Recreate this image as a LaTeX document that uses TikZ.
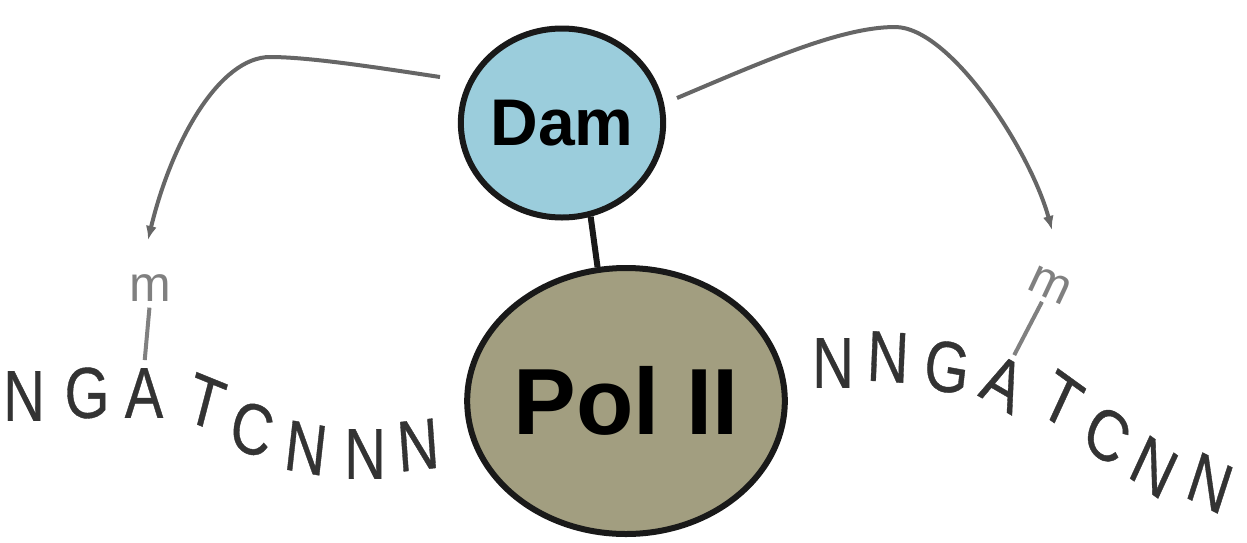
\documentclass[tikz,border=0pt]{standalone}
\usepackage{fontspec}
\setmainfont{Liberation Sans}
\newfontfamily\seqfont{Liberation Sans}[FakeBold=0.6]
\usetikzlibrary{arrows.meta,shapes.geometric}
\definecolor{damblue}{RGB}{155,205,220}
\definecolor{pololive}{RGB}{162,158,128}
\begin{document}
\begin{tikzpicture}[x=1pt,y=-1pt,
  seq/.style={font=\seqfont\fontsize{72}{80}\selectfont, text=black!80, inner sep=0pt, xscale=0.8},
  meth/.style={font=\fontsize{50}{56}\selectfont, text=black!50, inner sep=0pt},
  ball/.style={ellipse, draw=black!90, line width=6pt, inner sep=0pt},
  curv/.style={draw=black!60, line width=4pt, -{Latex[length=14pt,width=11pt]}},
  tick/.style={draw=black!50, line width=4pt}]
\useasboundingbox (0,0) rectangle (1247,542);
% balls
\node[ball, fill=damblue, minimum width=195pt, minimum height=189pt] (Dam) at (562,123)
  {\fontsize{66}{72}\selectfont\bfseries Dam};
\node[ball, fill=pololive, minimum width=312pt, minimum height=266pt] (Pol) at (626,401)
  {\fontsize{94}{100}\selectfont\bfseries Pol II};
\draw[line width=6pt, black!90] (Dam.-73) -- (Pol.102);
% left sequence
\node[seq] (NL1) at (24,396) {N};
\node[seq] (GL) at (87,393) {G};
\node[seq] (AL) at (144,393) {A};
\node[seq, rotate=-18] (TL) at (206,402) {T};
\node[seq, rotate=-15] (CL) at (252,429) {C};
\node[seq, rotate=-8] (NL2) at (306,448) {N};
\node[seq] (NL3) at (365,454) {N};
\node[seq, rotate=5] (NL4) at (418,445) {N};
\node[meth] (mL) at (150,288) {m};
\draw[tick, shorten <=6pt, shorten >=8pt] (mL.south) -- (AL.north);
% right sequence
\node[seq] (NR1) at (833,363) {N};
\node[seq, rotate=-3] (NR2) at (888,357) {N};
\node[seq, rotate=-8] (GR) at (947,367) {G};
\node[seq, rotate=-25] (AR) at (1003,383) {A};
\node[seq, rotate=-30] (TR) at (1062,400) {T};
\node[seq, rotate=-30] (CR) at (1107,435) {C};
\node[seq, rotate=-30] (NR3) at (1154,467) {N};
\node[seq, rotate=-22] (NR4) at (1210,483) {N};
\node[meth, rotate=-25] (mR) at (1050,285) {m};
\draw[tick, shorten <=5pt, shorten >=6pt] (mR.south) -- (AR.north);
% methylation arrows
\coordinate (ls) at (440,77);
\coordinate (lt) at (148,240);
\coordinate (rs) at (677,98);
\coordinate (rt) at (1052,230);
\draw[curv] (ls) .. controls (380,68) and (310,57) .. (270,57)
  .. controls (220,57) and (172,140) .. (lt);
\draw[curv] (rs) .. controls (760,63) and (840,27) .. (895,27)
  .. controls (950,27) and (1030,150) .. (rt);
\end{tikzpicture}
\end{document}
